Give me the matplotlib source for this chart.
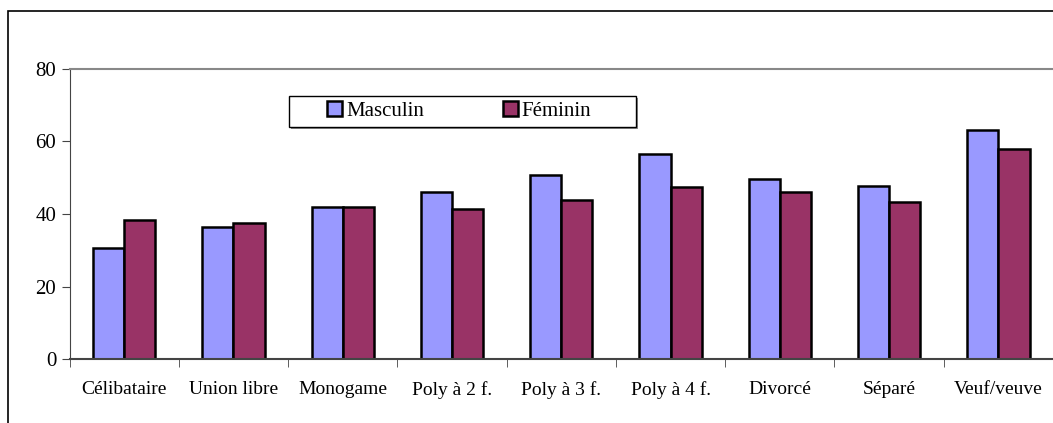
import matplotlib.pyplot as plt
import numpy as np
from matplotlib.patches import Rectangle

# Données
categories = ['Célibataire', 'Union libre', 'Monogame', 'Poly à 2 f.', 'Poly à 3 f.',
              'Poly à 4 f.', 'Divorcé', 'Séparé', 'Veuf/veuve']
masculin = [30.6, 36.4, 42.0, 46.0, 50.8, 56.6, 49.6, 47.6, 63.1]
feminin = [38.3, 37.5, 42.0, 41.4, 43.8, 47.4, 46.0, 43.2, 58.0]
yticks = [0, 20, 40, 60, 80]

plt.rcParams['font.family'] = ['Liberation Serif', 'DejaVu Serif']

fig = plt.figure(figsize=(10.53, 4.23), dpi=100)
# cadre extérieur du graphique
fig.patches.append(Rectangle((8 / 1053, -0.1), 1.2, 1 - 11 / 423 + 0.1,
                             transform=fig.transFigure, fill=False,
                             edgecolor='black', linewidth=1.2))

ax = fig.add_axes([69.5 / 1053, 64 / 423, 983.5 / 1053, 290 / 423])
x = np.arange(len(categories))
w = 0.285
ax.bar(x - w / 2, masculin, w, color='#9999ff', edgecolor='black', linewidth=1.8,
       label='Masculin')
ax.bar(x + w / 2, feminin, w, color='#993366', edgecolor='black', linewidth=1.8,
       label='Féminin')

ax.set_xlim(-0.5, len(categories) - 0.5)
ax.set_ylim(0, 80)
ax.set_yticks(yticks)
ax.set_xticks(x)
ax.set_xticklabels(categories, fontsize=14)
ax.set_xticks(np.arange(len(categories) + 1) - 0.5, minor=True)
ax.tick_params(axis='x', which='major', length=0, pad=16)
ax.tick_params(axis='x', which='minor', length=6, direction='out', color='#444444')
ax.tick_params(axis='y', labelsize=15, length=6, direction='out', color='#444444')

ax.spines['right'].set_visible(False)
ax.spines['top'].set_color('#888888')
ax.spines['top'].set_linewidth(1.5)
ax.spines['left'].set_color('#444444')
ax.spines['bottom'].set_color('#444444')
ax.spines['bottom'].set_linewidth(1.5)

# boîte de la légende avec ombre grise
lx, ly, lw, lh = 0.223, 0.80, 0.353, 0.107
ax.add_patch(Rectangle((lx + 0.002, ly - 0.007), lw, lh, transform=ax.transAxes,
                       facecolor='#8c8c8c', edgecolor='none', zorder=4, clip_on=False))
ax.add_patch(Rectangle((lx, ly), lw, lh, transform=ax.transAxes,
                       facecolor='white', edgecolor='black', linewidth=1.0,
                       zorder=5, clip_on=False))
leg = ax.legend(loc='center left', bbox_to_anchor=(0.262, 0.855), ncol=2,
                fontsize=15, frameon=False, handlelength=0.7, handleheight=0.7,
                handletextpad=0.2, columnspacing=3.8, borderpad=0,
                borderaxespad=0)
leg.set_zorder(6)

plt.savefig('out.png', dpi=100)
